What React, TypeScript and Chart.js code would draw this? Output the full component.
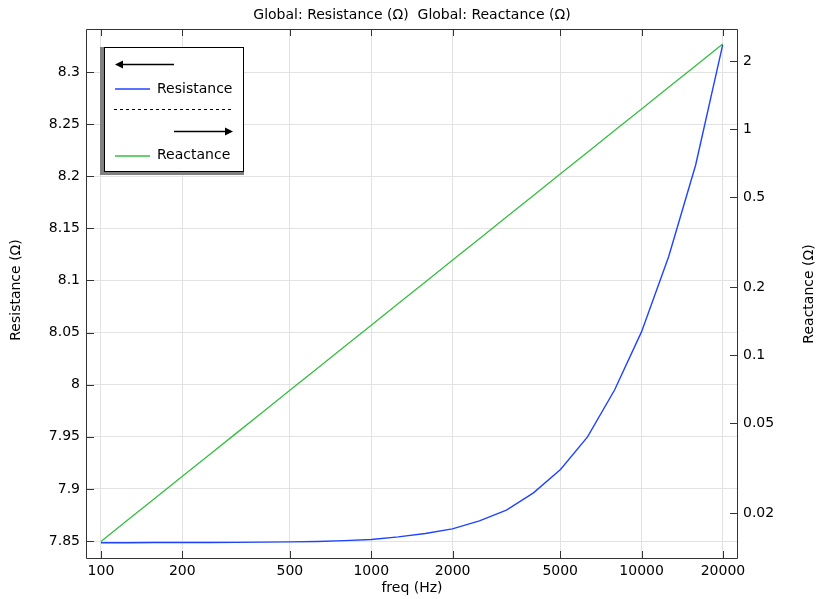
import React, { useEffect, useRef } from 'react';
import { Chart, registerables } from 'chart.js';

Chart.register(...registerables);

const freqs = [
  100, 125.89, 158.49, 199.53, 251.19, 316.23, 398.11, 501.19, 630.96, 794.33,
  1000, 1258.9, 1584.9, 1995.3, 2511.9, 3162.3, 3981.1, 5011.9, 6309.6, 7943.3,
  10000, 12589, 15849, 19953,
];
const resistance = [
  7.8484, 7.8484, 7.8485, 7.8485, 7.8486, 7.8487, 7.8489, 7.8492, 7.8496, 7.8504,
  7.8515, 7.854, 7.8572, 7.8616, 7.8693, 7.8796, 7.8962, 7.9186, 7.9499, 7.9949,
  8.0509, 8.1228, 8.2108, 8.326,
];
const reactance = [
  0.01496, 0.01865, 0.02324, 0.02897, 0.03611, 0.045, 0.0561, 0.06993, 0.08718, 0.1087,
  0.1355, 0.1689, 0.2105, 0.2624, 0.3271, 0.4077, 0.5083, 0.6336, 0.7898, 0.9845,
  1.227, 1.53, 1.907, 2.377,
];
const xTicks = [100, 200, 500, 1000, 2000, 5000, 10000, 20000];
const leftTicks = [7.85, 7.9, 7.95, 8, 8.05, 8.1, 8.15, 8.2, 8.25, 8.3];
const rightTicks = [0.02, 0.05, 0.1, 0.2, 0.5, 1, 2];
const titleText = 'Global: Resistance (Ω)  Global: Reactance (Ω)';
const xTitle = 'freq (Hz)';
const leftTitle = 'Resistance (Ω)';
const rightTitle = 'Reactance (Ω)';
const seriesNames = ['Resistance', 'Reactance'];

const FONT = "'DejaVu Sans', sans-serif";
const BLUE = '#1f44ff';
const GREEN = '#33bf40';
const FRAME = '#333333';

const fmt = (v: number) => String(parseFloat(Number(v).toFixed(4)));

const decorPlugin = {
  id: 'decor',
  afterDatasetsDraw(chart: any) {
    const ctx = chart.ctx as CanvasRenderingContext2D;
    const { left, right, top, bottom } = chart.chartArea;
    const xs = chart.scales.x;
    const ys = chart.scales.y;
    const y1 = chart.scales.y1;
    ctx.save();
    // frame
    ctx.strokeStyle = FRAME;
    ctx.lineWidth = 1;
    ctx.beginPath();
    ctx.rect(Math.round(left) - 0.5, Math.round(top) - 0.5, Math.round(right - left) + 1, Math.round(bottom - top) + 1);
    ctx.stroke();
    // ticks
    ctx.beginPath();
    xTicks.forEach((v) => {
      const px = Math.round(xs.getPixelForValue(v)) + 0.5;
      ctx.moveTo(px, bottom);
      ctx.lineTo(px, bottom - 7);
      ctx.moveTo(px, top);
      ctx.lineTo(px, top + 6);
    });
    leftTicks.forEach((v) => {
      const py = Math.round(ys.getPixelForValue(v)) + 0.5;
      ctx.moveTo(left, py);
      ctx.lineTo(left + 7, py);
    });
    rightTicks.forEach((v) => {
      const py = Math.round(y1.getPixelForValue(v)) + 0.5;
      ctx.moveTo(right, py);
      ctx.lineTo(right - 7, py);
    });
    ctx.stroke();

    // titles
    ctx.fillStyle = '#000';
    ctx.font = `14px ${FONT}`;
    ctx.textAlign = 'center';
    ctx.textBaseline = 'middle';
    ctx.fillText(titleText, (left + right) / 2, 15);
    ctx.fillText(xTitle, (left + right) / 2, 588);
    ctx.save();
    ctx.translate(16.5, 290);
    ctx.rotate(-Math.PI / 2);
    ctx.fillText(leftTitle, 0, 0);
    ctx.restore();
    ctx.save();
    ctx.translate(809, 294);
    ctx.rotate(-Math.PI / 2);
    ctx.fillText(rightTitle, 0, 0);
    ctx.restore();

    // legend
    ctx.fillStyle = '#808080';
    ctx.fillRect(100, 47, 144, 128);
    ctx.fillStyle = '#ffffff';
    ctx.fillRect(104, 47, 140, 125);
    ctx.strokeStyle = '#000';
    ctx.lineWidth = 1;
    ctx.strokeRect(104.5, 47.5, 139, 124);

    // left arrow
    ctx.fillStyle = '#000';
    ctx.lineWidth = 1.5;
    ctx.beginPath();
    ctx.moveTo(121, 64.5);
    ctx.lineTo(174, 64.5);
    ctx.stroke();
    ctx.beginPath();
    ctx.moveTo(115, 64.5);
    ctx.lineTo(123, 60.5);
    ctx.lineTo(123, 68.5);
    ctx.closePath();
    ctx.fill();

    // resistance entry
    ctx.strokeStyle = BLUE;
    ctx.lineWidth = 1.5;
    ctx.beginPath();
    ctx.moveTo(115, 89);
    ctx.lineTo(150, 89);
    ctx.stroke();
    ctx.fillStyle = '#000';
    ctx.textAlign = 'left';
    ctx.fillText(seriesNames[0], 157, 89);

    // dotted separator
    ctx.strokeStyle = '#000';
    ctx.lineWidth = 1;
    ctx.setLineDash([3, 3]);
    ctx.beginPath();
    ctx.moveTo(114, 109.5);
    ctx.lineTo(234, 109.5);
    ctx.stroke();
    ctx.setLineDash([]);

    // right arrow
    ctx.lineWidth = 1.5;
    ctx.beginPath();
    ctx.moveTo(174, 131.5);
    ctx.lineTo(227, 131.5);
    ctx.stroke();
    ctx.beginPath();
    ctx.moveTo(233, 131.5);
    ctx.lineTo(225, 127.5);
    ctx.lineTo(225, 135.5);
    ctx.closePath();
    ctx.fill();

    // reactance entry
    ctx.strokeStyle = GREEN;
    ctx.lineWidth = 1.5;
    ctx.beginPath();
    ctx.moveTo(115, 156);
    ctx.lineTo(150, 156);
    ctx.stroke();
    ctx.fillStyle = '#000';
    ctx.fillText(seriesNames[1], 157, 155.5);

    ctx.restore();
  },
};

export default function App() {
  const ref = useRef<HTMLCanvasElement | null>(null);
  useEffect(() => {
    if (!ref.current) return;
    const tickFont = { family: FONT, size: 14 };
    const chart = new Chart(ref.current, {
      type: 'line',
      data: {
        datasets: [
          {
            label: seriesNames[0],
            data: freqs.map((f, i) => ({ x: f, y: resistance[i] })),
            yAxisID: 'y',
            borderColor: BLUE,
            borderWidth: 1.4,
            pointRadius: 0,
            tension: 0,
            fill: false,
          },
          {
            label: seriesNames[1],
            data: freqs.map((f, i) => ({ x: f, y: reactance[i] })),
            yAxisID: 'y1',
            borderColor: GREEN,
            borderWidth: 1.3,
            pointRadius: 0,
            tension: 0,
            fill: false,
          },
        ],
      },
      options: {
        animation: false,
        responsive: false,
        maintainAspectRatio: false,
        layout: { padding: { top: 30, left: 0, right: 0, bottom: 0 } },
        plugins: {
          legend: { display: false },
          title: { display: false },
          tooltip: { enabled: false },
        },
        scales: {
          x: {
            type: 'logarithmic',
            position: 'bottom',
            min: 88.8,
            max: 22540,
            afterBuildTicks: (s: any) => {
              s.ticks = xTicks.map((v) => ({ value: v }));
            },
            afterFit: (s: any) => {
              s.height = 41;
            },
            grid: { color: '#e2e2e2', drawTicks: false, lineWidth: 1 },
            border: { display: false },
            ticks: {
              padding: 5,
              font: tickFont,
              color: '#000',
              maxRotation: 0,
              autoSkip: false,
              callback: (v: any) => fmt(v),
            },
          },
          y: {
            type: 'linear',
            position: 'left',
            min: 7.8337,
            max: 8.3403,
            afterBuildTicks: (s: any) => {
              s.ticks = leftTicks.map((v) => ({ value: v }));
            },
            afterFit: (s: any) => {
              s.width = 87;
            },
            grid: { color: '#e2e2e2', drawTicks: false, lineWidth: 1 },
            border: { display: false },
            ticks: {
              padding: 7,
              font: tickFont,
              color: '#000',
              autoSkip: false,
              callback: (v: any) => fmt(v),
            },
          },
          y1: {
            type: 'logarithmic',
            position: 'right',
            min: 0.01264,
            max: 2.743,
            afterBuildTicks: (s: any) => {
              s.ticks = rightTicks.map((v) => ({ value: v }));
            },
            afterFit: (s: any) => {
              s.width = 80;
            },
            grid: { display: false, drawTicks: false },
            border: { display: false },
            ticks: {
              padding: 6,
              font: tickFont,
              color: '#000',
              autoSkip: false,
              callback: (v: any) => fmt(v),
            },
          },
        },
      },
      plugins: [decorPlugin],
    } as any);
    return () => chart.destroy();
  }, []);
  return (
    <div style={{ position: 'fixed', left: 0, top: 0, width: 817, height: 599, background: '#fff' }}>
      <canvas ref={ref} width={817} height={599} style={{ width: 817, height: 599, display: 'block' }} />
    </div>
  );
}
